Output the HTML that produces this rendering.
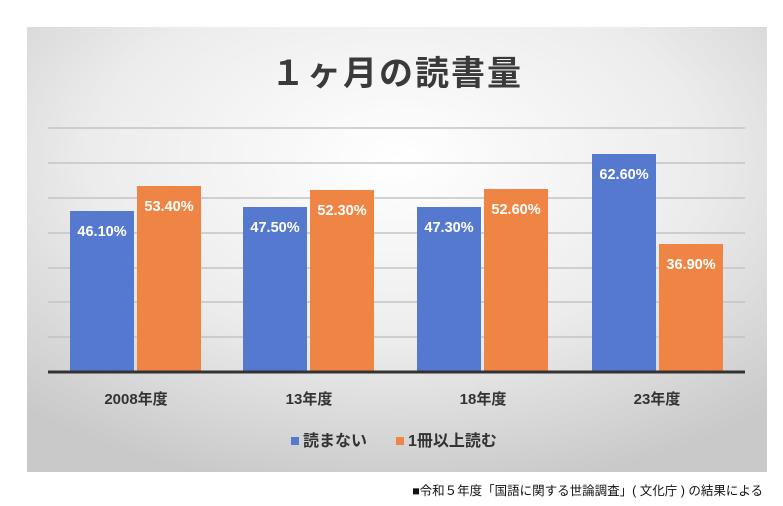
<!DOCTYPE html>
<html><head><meta charset="utf-8"><style>
html,body{margin:0;padding:0;background:#fff;width:783px;height:506px;overflow:hidden}
svg{display:block;font-family:"Liberation Sans","Noto Sans CJK JP",sans-serif}
</style></head><body>
<svg width="783" height="506" viewBox="0 0 783 506">
<defs>
<radialGradient id="bg" cx="0.5" cy="0.3" r="0.75">
<stop offset="0" stop-color="#ffffff"/><stop offset="0.55" stop-color="#ececec"/><stop offset="1" stop-color="#c9c9c9"/>
</radialGradient>
</defs>
<rect x="27" y="27" width="740" height="445" fill="url(#bg)"/>
<text x="397" y="85" text-anchor="middle" font-size="34" font-weight="bold" fill="#3a3a3a" letter-spacing="2">１ヶ月の読書量</text>
<g stroke="#c4c4c4" stroke-width="1.5">
<line x1="48" x2="745" y1="128" y2="128"/><line x1="48" x2="745" y1="163" y2="163"/>
<line x1="48" x2="745" y1="198" y2="198"/><line x1="48" x2="745" y1="233" y2="233"/>
<line x1="48" x2="745" y1="268" y2="268"/><line x1="48" x2="745" y1="302" y2="302"/>
<line x1="48" x2="745" y1="337" y2="337"/>
</g>
<g fill="#5579cf">
<rect x="70" y="211" width="64" height="161"/><rect x="243" y="207" width="64" height="165"/>
<rect x="417" y="207" width="64" height="165"/><rect x="592" y="154" width="64" height="218"/>
</g>
<g fill="#ee8544">
<rect x="137" y="186" width="64" height="186"/><rect x="310" y="190" width="64" height="182"/>
<rect x="484" y="189" width="64" height="183"/><rect x="659" y="244" width="64" height="128"/>
</g>
<line x1="48" x2="745" y1="372" y2="372" stroke="#333" stroke-width="3"/>
<g fill="#fff" font-size="14.5" font-weight="bold" text-anchor="middle">
<text x="102" y="236">46.10%</text><text x="169" y="211">53.40%</text>
<text x="275" y="232">47.50%</text><text x="342" y="215">52.30%</text>
<text x="449" y="232">47.30%</text><text x="516" y="214">52.60%</text>
<text x="624" y="179">62.60%</text><text x="691" y="269">36.90%</text>
</g>
<g fill="#333" font-size="15" font-weight="bold" text-anchor="middle">
<text x="136" y="404">2008年度</text><text x="309" y="404">13年度</text>
<text x="483" y="404">18年度</text><text x="657" y="404">23年度</text>
</g>
<rect x="291" y="437" width="8" height="8" fill="#5579cf"/>
<text x="303" y="446" font-size="16" font-weight="bold" fill="#333">読まない</text>
<rect x="396" y="437" width="8" height="8" fill="#ee8544"/>
<text x="408" y="446" font-size="16" font-weight="bold" fill="#333">1冊以上読む</text>
<text x="763" y="495" text-anchor="end" font-size="12.5" fill="#111">■令和５年度「国語に関する世論調査」( 文化庁 ) の結果による</text>
</svg>
</body></html>
